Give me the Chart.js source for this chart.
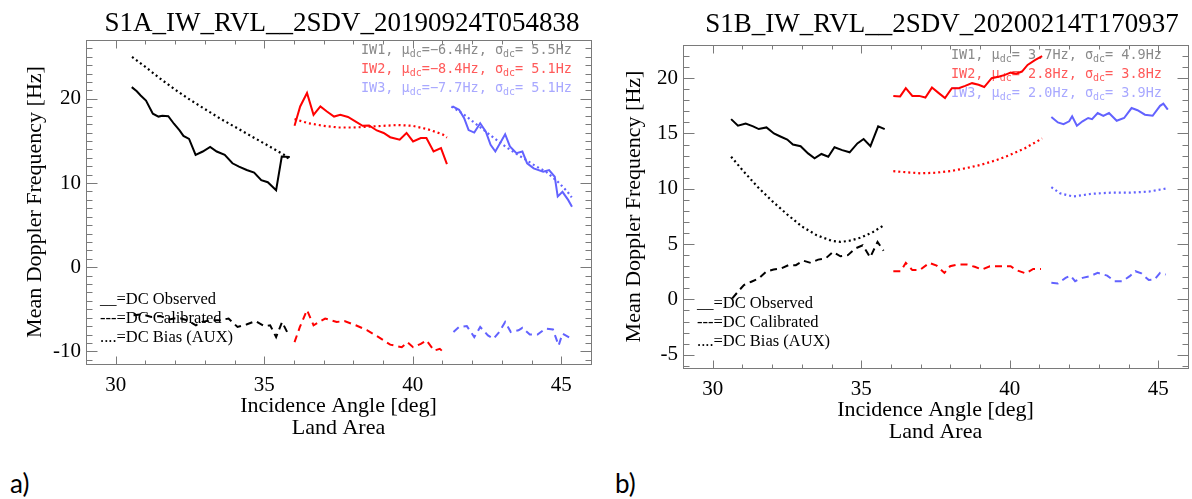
<!DOCTYPE html>
<html>
<head>
<meta charset="utf-8">
<title>Mean Doppler Frequency</title>
<script src="https://cdn.jsdelivr.net/npm/chart.js@4.4.1/dist/chart.umd.min.js"></script>
<style>
  body { margin: 0; background: #fff; width: 1192px; height: 499px; position: relative; overflow: hidden; }
  .panel { position: absolute; top: 0; height: 445px; }
  #wa { left: 0; width: 600px; }
  #wb { left: 600px; width: 592px; }
  .tag { position: absolute; top: 467px; font: 26px Lato, "Open Sans", sans-serif; color: #000; }
</style>
</head>
<body>
<div class="panel" id="wa"><canvas id="chartA"></canvas></div>
<div class="panel" id="wb"><canvas id="chartB"></canvas></div>
<div class="tag" style="left:10px">a)</div>
<div class="tag" style="left:615px">b)</div>

<script>
// ---- data: [incidence angle, doppler Hz] ----
const xTicks = [30, 35, 40, 45];
const yTicksA = [-10, 0, 10, 20];
const yTicksB = [-5, 0, 5, 10, 15, 20];

// panel a) S1A 20190924
const aObs1 = [[30.54,21.4],[30.71,20.9],[30.84,20.4],[31.02,19.8],[31.25,18.25],[31.44,17.9],[31.57,18.0],[31.77,17.95],[31.96,17.05],[32.15,16.25],[32.28,15.6],[32.47,15.25],[32.69,13.35],[32.93,13.75],[33.18,14.3],[33.40,13.75],[33.67,13.35],[33.93,12.35],[34.15,11.95],[34.41,11.55],[34.66,11.25],[34.90,10.35],[35.12,10.1],[35.40,9.15],[35.59,13.15],[35.86,13.1]];
const aBias1 = [[30.55,25.0],[31.0,23.8],[31.5,22.4],[32.0,21.1],[32.5,19.9],[33.0,18.8],[33.5,17.7],[34.0,16.7],[34.5,15.7],[35.0,14.7],[35.5,13.7],[35.75,13.2],[35.85,12.6]];
const aCal1 = [[30.6,-5.7],[30.9,-5.6],[31.2,-5.9],[31.5,-5.8],[31.8,-6.2],[32.1,-6.0],[32.4,-6.3],[32.7,-6.9],[32.9,-6.5],[33.2,-6.3],[33.5,-6.3],[33.8,-6.1],[34.1,-7.1],[34.4,-6.8],[34.7,-6.4],[35.0,-7.0],[35.2,-6.9],[35.4,-8.3],[35.6,-6.5],[35.8,-7.9]];
const aObs2 = [[36.02,16.8],[36.21,19.1],[36.44,20.7],[36.66,18.1],[36.89,19.1],[37.11,18.5],[37.35,17.9],[37.56,18.1],[37.82,17.85],[38.08,17.3],[38.31,16.8],[38.53,16.85],[38.79,16.25],[39.02,15.95],[39.24,15.45],[39.56,15.15],[39.79,15.95],[40.01,14.95],[40.27,15.35],[40.46,15.35],[40.70,13.75],[40.95,14.15],[41.15,12.25]];
const aBias2 = [[36.02,17.6],[36.5,17.1],[37.0,16.8],[37.5,16.6],[38.0,16.6],[38.5,16.7],[39.0,16.8],[39.5,16.9],[40.0,16.8],[40.5,16.4],[41.0,15.8],[41.15,15.4]];
const aCal2 = [[36.02,-8.9],[36.2,-7.1],[36.44,-5.1],[36.66,-6.9],[37.05,-6.1],[37.44,-6.5],[37.7,-6.4],[38.08,-6.9],[38.47,-7.5],[38.85,-8.3],[39.24,-9.2],[39.63,-9.5],[39.82,-8.9],[40.01,-9.5],[40.27,-9.1],[40.46,-8.7],[40.72,-9.9],[40.91,-9.7],[41.1,-10.3]];
const aObs3 = [[41.34,19.1],[41.56,18.7],[41.73,17.7],[41.88,16.3],[42.07,16.0],[42.27,17.1],[42.46,16.1],[42.62,14.55],[42.78,13.75],[43.11,15.8],[43.27,14.35],[43.49,13.55],[43.69,13.75],[43.85,12.35],[44.07,11.75],[44.39,11.35],[44.59,11.55],[44.78,10.75],[44.88,8.4],[45.04,8.95],[45.23,8.0],[45.36,7.2]];
const aBias3 = [[41.3,19.1],[41.7,18.2],[42.1,17.1],[42.5,16.0],[42.9,14.9],[43.3,13.9],[43.7,13.0],[44.1,12.1],[44.5,11.3],[44.9,10.1],[45.2,9.0],[45.35,8.3]];
const aCal3 = [[41.37,-7.7],[41.56,-7.1],[41.82,-7.0],[42.07,-8.3],[42.27,-7.1],[42.53,-8.1],[42.72,-8.5],[42.91,-7.7],[43.11,-6.5],[43.3,-7.7],[43.56,-7.5],[43.69,-7.2],[43.94,-8.0],[44.2,-8.0],[44.46,-7.3],[44.72,-7.4],[44.91,-9.3],[45.04,-7.9],[45.3,-8.4]];
const aMu = [-6.4, -8.4, -7.7];
const aSd = [5.5, 5.1, 5.1];

// panel b) S1B 20200214
const bObs1 = [[30.62,16.3],[30.85,15.7],[31.11,15.9],[31.36,15.65],[31.55,15.4],[31.81,15.55],[32.06,15.0],[32.26,14.75],[32.51,14.45],[32.70,14.0],[32.96,13.85],[33.21,13.2],[33.43,12.75],[33.66,13.15],[33.89,12.9],[34.10,13.75],[34.36,13.5],[34.61,13.3],[34.87,14.1],[35.08,14.5],[35.31,13.85],[35.57,15.65],[35.79,15.4]];
const bBias1 = [[30.62,12.9],[31.0,11.7],[31.5,10.2],[32.0,8.9],[32.5,7.7],[33.0,6.6],[33.5,5.8],[34.0,5.3],[34.3,5.2],[34.6,5.3],[35.0,5.6],[35.4,6.1],[35.79,6.75]];
const bCal1 = [[30.66,0.1],[30.85,0.7],[31.05,1.3],[31.3,1.6],[31.55,1.9],[31.8,2.5],[32.05,2.7],[32.3,2.8],[32.55,3.1],[32.8,3.1],[33.05,3.5],[33.3,3.3],[33.55,3.6],[33.8,3.7],[34.05,4.3],[34.3,3.9],[34.55,4.0],[34.8,4.6],[35.05,4.9],[35.3,3.8],[35.55,5.2],[35.75,4.4]];
const bObs2 = [[36.08,18.4],[36.31,18.35],[36.5,19.1],[36.72,18.4],[36.95,18.4],[37.16,18.25],[37.38,19.15],[37.61,18.65],[37.82,18.2],[38.05,19.1],[38.28,19.1],[38.5,19.3],[38.73,19.55],[38.95,19.4],[39.14,19.2],[39.39,20.0],[39.65,20.15],[39.84,20.3],[40.03,20.5],[40.22,20.4],[40.41,20.6],[40.6,21.2],[40.86,21.65],[41.09,22.0]];
const bBias2 = [[36.08,11.6],[36.5,11.5],[37.0,11.4],[37.5,11.45],[38.0,11.6],[38.5,11.85],[39.0,12.15],[39.5,12.55],[40.0,13.05],[40.5,13.65],[41.09,14.55]];
const bCal2 = [[36.08,2.55],[36.33,2.55],[36.5,3.3],[36.72,2.65],[36.97,2.65],[37.29,3.3],[37.54,3.05],[37.8,2.4],[37.99,3.0],[38.25,3.15],[38.56,3.15],[38.82,2.95],[39.07,2.7],[39.33,3.0],[39.71,3.0],[40.03,3.0],[40.22,2.65],[40.54,2.35],[40.79,2.75],[41.05,2.75]];
const bObs3 = [[41.4,16.5],[41.62,16.0],[41.81,15.85],[42.0,16.1],[42.1,16.55],[42.26,15.7],[42.45,16.1],[42.64,16.4],[42.77,16.3],[42.96,16.85],[43.15,16.6],[43.34,16.85],[43.6,16.15],[43.85,16.4],[44.1,17.3],[44.3,17.1],[44.55,16.7],[44.81,16.6],[45.06,17.5],[45.17,17.7],[45.32,17.15]];
const bBias3 = [[41.4,10.15],[41.69,9.6],[42.13,9.3],[42.77,9.55],[43.4,9.65],[44.04,9.65],[44.68,9.75],[45.32,10.05]];
const bCal3 = [[41.4,1.5],[41.62,1.45],[41.88,1.95],[42.04,2.15],[42.2,1.65],[42.45,1.95],[42.7,2.1],[42.96,2.4],[43.28,2.15],[43.53,1.65],[43.79,1.65],[44.04,2.1],[44.23,2.55],[44.43,2.35],[44.68,1.75],[44.87,1.8],[45.06,2.4],[45.25,2.25]];
const bMu = [3.7, 2.8, 2.0];
const bSd = [4.9, 3.8, 3.9];

const swaths = ['IW1', 'IW2', 'IW3'];
const legendText = ['__=DC Observed', '---=DC Calibrated', '....=DC Bias (AUX)'];

// ---- styling ----
const SERIF = '"Liberation Serif", "Times New Roman", serif';
const MONO = '"DejaVu Sans Mono", monospace';
const lineCol = ['#000000', '#ff0000', '#6262ff'];
const statCol = ['#8a8a8a', '#ff5a5a', '#a8a8ff'];

function fmt(v) {
  return (v < 0 ? '\u2212' : ' ') + Math.abs(v).toFixed(1);
}

// box, inward ticks, title, stats text, legend
const framePlugin = {
  id: 'frame',
  beforeDatasetsDraw(chart, args, o) {
    const ctx = chart.ctx, a = chart.chartArea;
    const x = chart.scales.x, y = chart.scales.y;
    ctx.save();
    ctx.strokeStyle = '#7a7a7a';
    ctx.lineWidth = 1;
    const L = Math.round(a.left) + 0.5, R = Math.round(a.right) + 0.5;
    const T = Math.round(a.top) + 0.5, B = Math.round(a.bottom) + 0.5;
    ctx.strokeRect(L, T, R - L, B - T);
    ctx.beginPath();
    for (let v = Math.ceil(x.min); v <= x.max; v++) {
      const p = Math.round(x.getPixelForValue(v)) + 0.5;
      const len = v % 5 === 0 ? 8 : 4;
      ctx.moveTo(p, B); ctx.lineTo(p, B - len);
      ctx.moveTo(p, T); ctx.lineTo(p, T + len);
    }
    for (let v = Math.ceil(y.min); v <= y.max; v++) {
      const p = Math.round(y.getPixelForValue(v)) + 0.5;
      const len = v % o.yMajor === 0 ? 11 : 6;
      ctx.moveTo(L, p); ctx.lineTo(L + len, p);
      ctx.moveTo(R, p); ctx.lineTo(R - len, p);
    }
    ctx.stroke();

    // title
    ctx.fillStyle = '#000';
    ctx.font = '27px ' + SERIF;
    ctx.textAlign = 'center';
    ctx.textBaseline = 'alphabetic';
    ctx.fillText(o.title, o.titleX, o.titleY);

    // stats, right aligned, with dc subscripts
    ctx.textAlign = 'left';
    ctx.textBaseline = 'middle';
    const big = '13.5px ' + MONO, small = '10px ' + MONO;
    swaths.forEach((sw, i) => {
      const parts = [
        [sw + ', \u03bc', big, 0], ['dc', small, 4],
        ['=' + fmt(o.mu[i]) + 'Hz, \u03c3', big, 0], ['dc', small, 4],
        ['=' + fmt(o.sd[i]) + 'Hz', big, 0]
      ];
      let w = 0;
      parts.forEach(p => { ctx.font = p[1]; w += ctx.measureText(p[0]).width; });
      let cx = o.statX - w;
      const cy = a.top + 10 + i * 19;
      ctx.fillStyle = statCol[i];
      parts.forEach(p => {
        ctx.font = p[1];
        ctx.fillText(p[0], cx, cy + p[2]);
        cx += ctx.measureText(p[0]).width;
      });
    });

    // line style legend
    ctx.fillStyle = '#000';
    ctx.font = '16.5px ' + SERIF;
    legendText.forEach((t, i) => {
      ctx.fillText(t, a.left + 14, a.bottom - 64 + i * 18.8);
    });
    ctx.restore();
  }
};

function makeChart(id, p) {
  const sets = [];
  p.groups.forEach((g, i) => {
    sets.push({ data: g[0], borderColor: lineCol[i], borderWidth: 2, borderDash: [] });
    sets.push({ data: g[1], borderColor: lineCol[i], borderWidth: 2, borderDash: [7, 5] });
    sets.push({ data: g[2], borderColor: lineCol[i], borderWidth: 2.2, borderDash: [2, 3] });
  });
  sets.forEach(s => {
    s.data = s.data.map(q => ({ x: q[0], y: q[1] }));
    s.pointRadius = 0;
    s.tension = 0;
    s.fill = false;
  });

  return new Chart(document.getElementById(id), {
    type: 'line',
    data: { datasets: sets },
    options: {
      responsive: true,
      maintainAspectRatio: false,
      animation: false,
      layout: { padding: { top: p.top, right: p.right, bottom: 0, left: 0 } },
      plugins: {
        legend: { display: false },
        tooltip: { enabled: false },
        frame: p.frame
      },
      scales: {
        x: {
          type: 'linear', min: 29, max: 46,
          afterBuildTicks: s => { s.ticks = xTicks.map(v => ({ value: v })); },
          afterFit: s => { s.height = 445 - p.bottom; },
          grid: { display: false, drawTicks: false },
          border: { display: false },
          ticks: { color: '#000', font: { family: SERIF, size: 21 }, padding: 9, maxRotation: 0, autoSkip: false },
          title: {
            display: true, text: ['Incidence Angle [deg]', 'Land Area'], color: '#000',
            font: { family: SERIF, size: 22, lineHeight: 1 }, padding: { top: 0, bottom: p.xtPad }
          }
        },
        y: {
          type: 'linear', min: p.ymin, max: p.ymax,
          afterBuildTicks: s => { s.ticks = p.yTicks.map(v => ({ value: v })); },
          afterFit: s => { s.width = p.left; },
          grid: { display: false, drawTicks: false },
          border: { display: false },
          ticks: { color: '#000', font: { family: SERIF, size: 21 }, padding: 5, autoSkip: false },
          title: {
            display: true, text: 'Mean Doppler Frequency [Hz]', color: '#000',
            font: { family: SERIF, size: 22, lineHeight: 1 }, padding: { top: p.ytPad, bottom: 0 }
          }
        }
      }
    },
    plugins: [framePlugin]
  });
}

makeChart('chartA', {
  groups: [[aObs1, aCal1, aBias1], [aObs2, aCal2, aBias2], [aObs3, aCal3, aBias3]],
  ymin: -11.5, ymax: 27, yTicks: yTicksA,
  top: 40, bottom: 364, left: 86, right: 9, xtPad: 6, ytPad: 24,
  frame: { title: 'S1A_IW_RVL__2SDV_20190924T054838', titleX: 342, titleY: 31, yMajor: 10, mu: aMu, sd: aSd, statX: 572 }
});

makeChart('chartB', {
  groups: [[bObs1, bCal1, bBias1], [bObs2, bCal2, bBias2], [bObs3, bCal3, bBias3]],
  ymin: -6.2, ymax: 23, yTicks: yTicksB,
  top: 45, bottom: 368, left: 83, right: 4, xtPad: 2, ytPad: 23,
  frame: { title: 'S1B_IW_RVL__2SDV_20200214T170937', titleX: 342, titleY: 32, yMajor: 5, mu: bMu, sd: bSd, statX: 562 }
});
</script>
</body>
</html>
